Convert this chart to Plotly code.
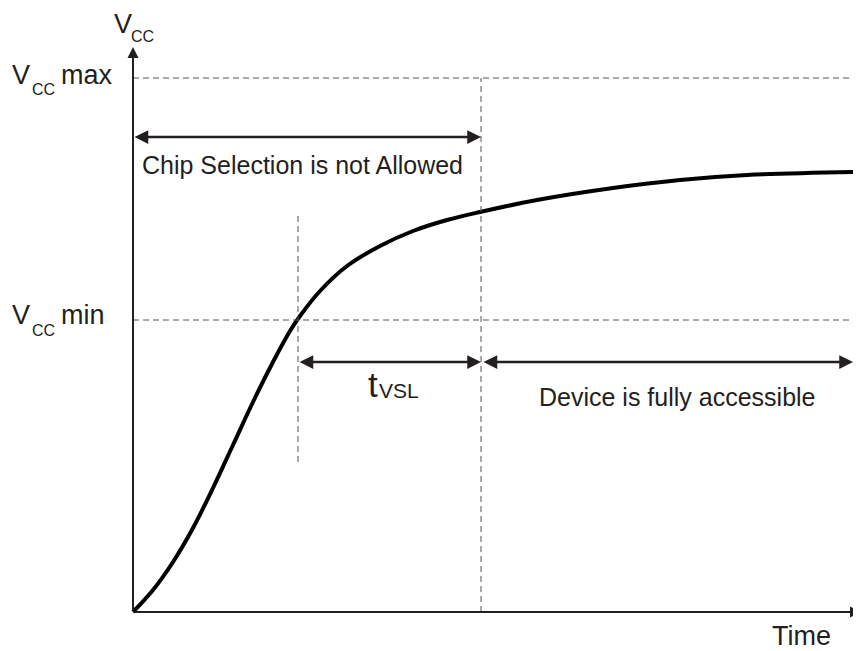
"""Power-up timing diagram: Vcc ramp, chip-select lockout and tVSL."""

import plotly.graph_objects as go

# supply ramp (time and voltage in arbitrary units)
ramp_time = [0, 20, 40, 60, 80, 100, 120, 140, 157, 167, 187, 214, 247, 280,
             314, 347, 404, 480, 547, 614, 720]
ramp_vcc = [0, 22, 50, 84, 124, 167, 210, 250, 281, 296, 321, 346, 366, 381,
            392, 400, 412, 424, 432, 437, 440]

vcc_levels = {"max": 534, "min": 292}
t_vcc_min = 165      # Vcc reaches Vcc min
t_access = 348       # end of tVSL, device accessible
t_end = 720
time_axis_end = 728
vcc_axis_end = 565

INK = "#231f20"
DASH = "#555555"
FONT = "Liberation Sans, Arial, sans-serif"

# page pixels -> data units (1:1), origin at page pixel (133, 612);
# the page body adds an 8px margin, so the figure is 8px smaller each way
X0, Y0 = 133, 612
W, H = 853, 643
L, B = 120, 34
PW, PH = W - L, H - B


def px(x):
    return x - X0


def py(y):
    return Y0 - y


fig = go.Figure()

fig.add_trace(go.Scatter(
    x=ramp_time, y=ramp_vcc, mode="lines",
    line=dict(color="black", width=4, shape="spline", smoothing=1.0),
    hoverinfo="skip", showlegend=False,
))

# dashed guides
for level in vcc_levels.values():
    fig.add_shape(type="line", x0=0, x1=px(850), y0=level, y1=level,
                  line=dict(color=DASH, width=1, dash="6px,4px"))
fig.add_shape(type="line", x0=t_access, x1=t_access, y0=0, y1=vcc_levels["max"],
              line=dict(color=DASH, width=1, dash="6px,4px"))
fig.add_shape(type="line", x0=t_vcc_min, x1=t_vcc_min, y0=py(462), y1=py(213),
              line=dict(color=DASH, width=1, dash="6px,4px"))


def arrow(x0, y0, x1, y1, both=False, width=2.5):
    fig.add_annotation(
        x=x1, y=y1, ax=x0, ay=y0, xref="x", yref="y", axref="x", ayref="y",
        text="", showarrow=True, arrowhead=2, startarrowhead=2,
        arrowside="end+start" if both else "end",
        arrowwidth=width, arrowsize=1.1, startarrowsize=1.1,
        arrowcolor=INK, standoff=0, startstandoff=0,
    )


# axes
arrow(0, 0, 0, vcc_axis_end, width=2)
arrow(0, 0, time_axis_end, 0, width=2)

# timing arrows
arrow(0, py(137), t_access, py(137), both=True)
arrow(t_vcc_min, py(362), t_access, py(362), both=True)
arrow(t_access + 1, py(362), t_end, py(362), both=True)


def label(text, x, y, size, xanchor="left"):
    # x, y are page pixels; place in paper coords so labels outside the
    # plot area still show
    fig.add_annotation(
        x=(x - 8 - L) / PW, y=(PH - (y - 8)) / PH, xref="paper", yref="paper",
        text=text, showarrow=False, xanchor=xanchor, yanchor="middle",
        borderpad=0, font=dict(family=FONT, size=size, color=INK),
    )


# axis titles
label("V", 113, 24, 27)
label("CC", 130, 36, 16)
label("Time", 801, 636, 27, xanchor="center")

# level labels
for name, y in [("max", 75), ("min", 315)]:
    label("V", 11, y, 27)
    label("CC", 31, y + 15, 16)
    label(name, 60, y, 27)

label("Chip Selection is not Allowed", 302, 165, 25, xanchor="center")
label("Device is fully accessible", 677, 397, 25, xanchor="center")
label("t", 367, 384, 35)
label("VSL", 378, 390, 21)

fig.update_layout(
    width=W, height=H,
    margin=dict(l=L, r=0, t=0, b=B),
    paper_bgcolor="white", plot_bgcolor="white",
    xaxis=dict(range=[-5, time_axis_end], visible=False, fixedrange=True),
    yaxis=dict(range=[-5, Y0 - 8], visible=False, fixedrange=True),
    showlegend=False,
)

fig.write_html("out.html")
